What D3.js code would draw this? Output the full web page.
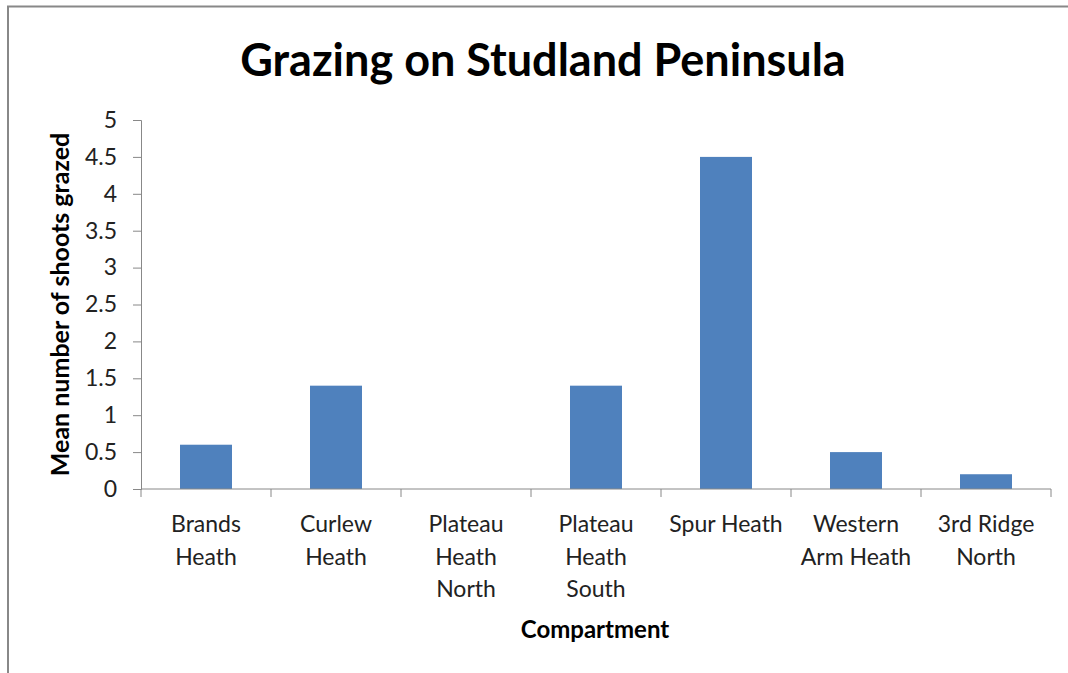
<!DOCTYPE html>
<html>
<head>
<meta charset="utf-8">
<script src="https://cdn.jsdelivr.net/npm/d3@7"></script>
<style>
  body { margin: 0; background: #fff; }
  svg { display: block; font-family: Lato, "Open Sans", sans-serif; }
</style>
</head>
<body>
<div id="chart"></div>
<script>
const categories = [
  'Brands Heath',
  'Curlew Heath',
  'Plateau Heath North',
  'Plateau Heath South',
  'Spur Heath',
  'Western Arm Heath',
  '3rd Ridge North'
];
const labelLines = [
  ['Brands', 'Heath'],
  ['Curlew', 'Heath'],
  ['Plateau', 'Heath', 'North'],
  ['Plateau', 'Heath', 'South'],
  ['Spur Heath'],
  ['Western', 'Arm Heath'],
  ['3rd Ridge', 'North']
];
const values = [0.6, 1.4, 0, 1.4, 4.5, 0.5, 0.2];
const yTicks = [0, 0.5, 1, 1.5, 2, 2.5, 3, 3.5, 4, 4.5, 5];

const width = 1068;
const height = 673;
const margin = { top: 120, right: 17, bottom: 184, left: 141 };

const svg = d3.select('#chart')
  .append('svg')
  .attr('width', width)
  .attr('height', height);

// chart border
svg.append('rect')
  .attr('x', 8).attr('y', 6.5)
  .attr('width', width + 20).attr('height', height + 20)
  .attr('fill', 'none')
  .attr('stroke', '#888')
  .attr('stroke-width', 2);

const x = d3.scaleBand()
  .domain(categories)
  .range([margin.left, width - margin.right]);

const y = d3.scaleLinear()
  .domain([0, 5])
  .range([height - margin.bottom, margin.top]);

const barW = x.bandwidth() / 2.5;

svg.append('g')
  .selectAll('rect')
  .data(values)
  .join('rect')
  .attr('x', (d, i) => x(categories[i]) + (x.bandwidth() - barW) / 2)
  .attr('y', (d) => y(d))
  .attr('width', barW)
  .attr('height', (d) => y(0) - y(d))
  .attr('fill', '#4F81BD');

// y axis
const yAxis = svg.append('g')
  .attr('transform', `translate(${margin.left},0)`)
  .call(d3.axisLeft(y).tickValues(yTicks).tickSize(8).tickPadding(16)
    .tickFormat(d3.format('')));
yAxis.selectAll('line, path').attr('stroke', '#888');
yAxis.selectAll('text')
  .attr('font-size', 23)
  .attr('font-family', 'Lato, "Open Sans", sans-serif')
  .attr('fill', '#222');

// x axis
const xAxis = svg.append('g')
  .attr('transform', `translate(0,${y(0)})`)
  .call(d3.axisBottom(x).tickSize(0).tickFormat(''));
xAxis.selectAll('path').attr('stroke', '#888').attr('d', `M${margin.left},0H${width - margin.right}`);
svg.append('g')
  .selectAll('line')
  .data(d3.range(categories.length + 1))
  .join('line')
  .attr('x1', (i) => margin.left + i * x.step())
  .attr('x2', (i) => margin.left + i * x.step())
  .attr('y1', y(0))
  .attr('y2', y(0) + 8)
  .attr('stroke', '#888');

svg.append('g')
  .attr('font-size', 23)
  .attr('fill', '#222')
  .attr('text-anchor', 'middle')
  .selectAll('text')
  .data(categories)
  .join('text')
  .attr('transform', (d) => `translate(${x(d) + x.bandwidth() / 2},${y(0) + 43})`)
  .each(function (d, i) {
    d3.select(this)
      .selectAll('tspan')
      .data(labelLines[i])
      .join('tspan')
      .attr('x', 0)
      .attr('y', (l, j) => j * 32.5)
      .text((l) => l);
  });

// titles
svg.append('text')
  .attr('x', 543).attr('y', 76)
  .attr('text-anchor', 'middle')
  .attr('font-size', 45)
  .attr('font-weight', 'bold')
  .text('Grazing on Studland Peninsula');

svg.append('text')
  .attr('x', 595).attr('y', 638)
  .attr('text-anchor', 'middle')
  .attr('font-size', 24)
  .attr('font-weight', 'bold')
  .text('Compartment');

svg.append('text')
  .attr('transform', `translate(69,${(y(0) + y(5)) / 2}) rotate(-90)`)
  .attr('text-anchor', 'middle')
  .attr('font-size', 25)
  .attr('font-weight', 'bold')
  .text('Mean number of shoots grazed');
</script>
</body>
</html>
